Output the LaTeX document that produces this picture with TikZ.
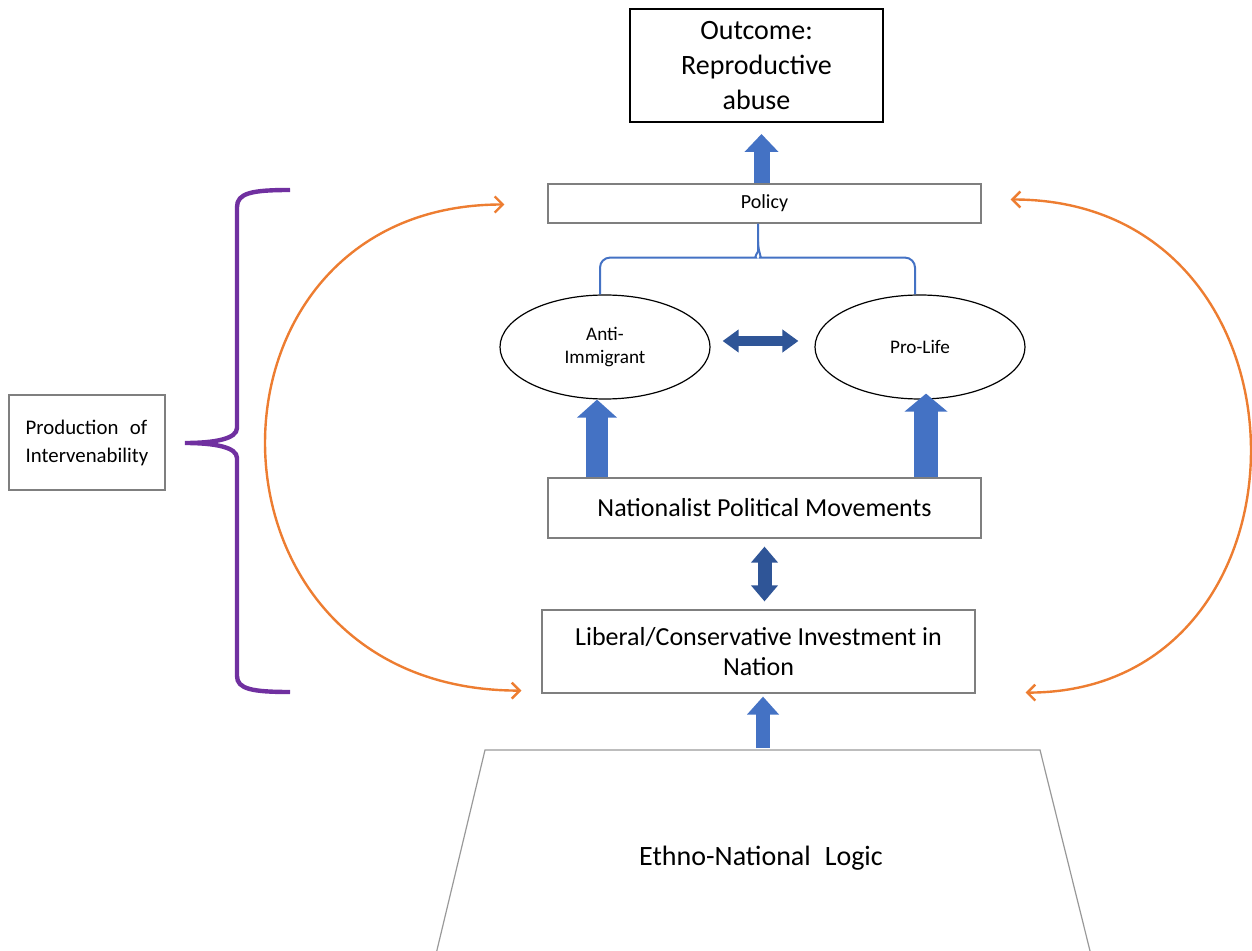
\documentclass[tikz,border=0pt]{standalone}
\usepackage{fontspec}
\setmainfont{Carlito}
\usetikzlibrary{positioning, calc, arrows.meta, shapes.geometric}
\definecolor{Frame}{HTML}{7F7F7F}
\definecolor{Shaft}{HTML}{4472C4}
\definecolor{Deep}{HTML}{2F5597}
\definecolor{Loop}{HTML}{ED7D31}
\definecolor{Brace}{HTML}{7030A0}
\tikzset{
    framebox/.style={rectangle, draw=Frame, line width=0.6pt, align=center, inner sep=2pt, minimum width=216.5pt},
    oval/.style={ellipse, draw=black, line width=0.6pt, align=center, inner sep=0pt, minimum width=105pt, minimum height=52pt, font=\fontsize{9.6}{11.5}\selectfont},
    fatarrow/.style 2 args={draw=Shaft, line width=#1, -{Triangle[length=9pt, width=#2]}},
    twoway/.style 2 args={draw=Deep, line width=#1, {Triangle[length=8pt, width=#2]}-{Triangle[length=8pt, width=#2]}},
    feedback/.style={draw=Loop, line width=1.2pt, {Straight Barb[length=4pt, width=8pt]}-{Straight Barb[length=4pt, width=8pt]}},
    bracket/.style={draw=Shaft, line width=1pt},
}

\begin{document}
\begin{tikzpicture}[x=0.5pt, y=-0.5pt]
    \useasboundingbox (0,0) rectangle (1252,951);

    % central column of boxes
    \node[framebox, draw=black, line width=1pt, minimum width=126.5pt, minimum height=56.5pt, font=\fontsize{14}{17.5}\selectfont] (outcome) at (756.5,65.5) {Outcome:\\Reproductive\\abuse};
    \node[framebox, minimum height=19.5pt, font=\fontsize{10}{12}\selectfont] (policy) at (764.5,203.5) {Policy};
    \node[oval] (anti) at (605,347) {Anti-\\Immigrant};
    \node[oval] (prolife) at (920,347) {Pro-Life};
    \node[framebox, minimum height=30pt, font=\fontsize{13}{16}\selectfont] (npm) at (764.5,508) {Nationalist Political Movements};
    \node[framebox, minimum height=41.5pt, font=\fontsize{13}{15}\selectfont] (liberal) at (758.5,651.5) {Liberal/Conservative Investment in\\Nation};

    % base of the pyramid
    \draw[draw=Frame!80, line width=0.6pt] (485,750) -- (1040,750) -- (1096,975) -- (431,975) -- cycle;
    \node[font=\fontsize{14}{17}\selectfont] (ethno) at (761,858) {Ethno-National\hspace{0.5em}Logic};
    \coordinate (ethnotop) at (763,748);

    % side label
    \node[framebox, minimum width=78pt, minimum height=47.5pt, align=left, font=\fontsize{10.4}{14}\selectfont] (prod) at (87,442.5) {Production\hspace{0.55em}of\\Intervenability};

    % block arrows
    \draw[fatarrow={8pt}{16.5pt}] ($(policy.north -| outcome.south)+(5,0)$) -- ($(outcome.south)+(5,11)$);
    \draw[fatarrow={11pt}{19.5pt}] ($(npm.north -| anti.south)+(-8,0)$) -- ($(anti.south)+(-8,0)$);
    \draw[fatarrow={12pt}{21pt}] ($(npm.north -| prolife.south)+(6,0)$) -- ($(prolife.south)+(6,-6)$);
    \draw[fatarrow={7pt}{15.5pt}] (ethnotop) -- ($(ethnotop |- liberal.south)+(0,3)$);
    \draw[twoway={7pt}{13pt}] ($(npm.south)+(0,8)$) -- ($(npm.south |- liberal.north)+(0,-8)$);
    \draw[twoway={5pt}{11pt}] ($(anti.east)+(12,-6)$) -- ($(prolife.west)+(-16,-6)$);

    % bracket joining the two ovals to the policy
    \draw[bracket, rounded corners=5pt] ($(anti.north)+(-5,0)$) |- ($(policy.south)+(-18.5,34)$) .. controls +(8,0) and +(0,10) .. ($(policy.south)+(-6.5,18)$) -- ($(policy.south)+(-6.5,0)$);
    \draw[bracket, rounded corners=5pt] ($(prolife.north)+(-5,0)$) |- ($(policy.south)+(5.5,34)$) .. controls +(-8,0) and +(0,10) .. ($(policy.south)+(-6.5,18)$);

    % feedback loops
    \draw[feedback] ($(policy.west)+(-43,1)$) .. controls +(-321,0) and +(-338,0) .. ($(liberal.south west)+(-20,-3)$);
    \draw[feedback] ($(policy.east)+(29,-4)$) .. controls +(317,0) and +(302,0) .. ($(liberal.south east)+(50,-1)$);

    % curly brace towards the side label
    \draw[Brace, line width=2.2pt] (290,190) .. controls (252,190) and (237,193) .. (237,207) -- (237,428) .. controls (237,439) and (214,443) .. (185,443) .. controls (214,443) and (237,447) .. (237,458) -- (237,676) .. controls (237,689) and (252,692) .. (290,692);
\end{tikzpicture}
\end{document}
